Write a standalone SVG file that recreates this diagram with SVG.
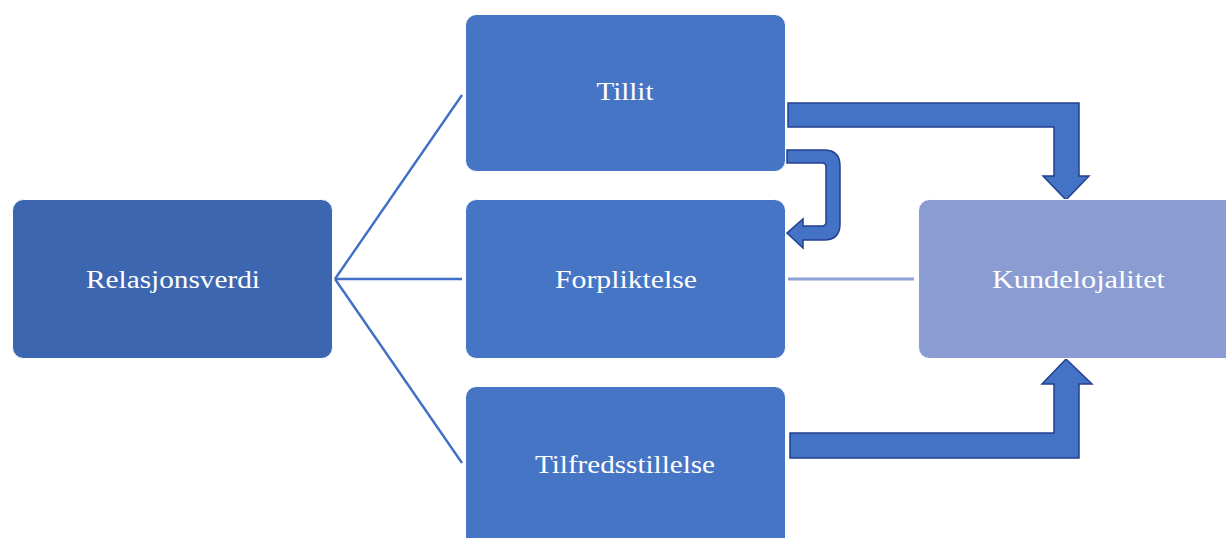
<svg xmlns="http://www.w3.org/2000/svg" width="1226" height="538" viewBox="0 0 1226 538">
  <style>
    .box { stroke: #ffffff; stroke-width: 1; }
    .dark { fill: #3D66B0; }
    .mid { fill: #4775C6; }
    .light { fill: #8A9CD1; }
    .label { font-family: "Liberation Serif", "DejaVu Serif", serif; font-size: 26px; fill: #ffffff; text-anchor: middle; }
    .link { stroke: #3F6FC6; stroke-width: 2.4; fill: none; }
    .thin-link { stroke: #8FA2D8; stroke-width: 3; fill: none; }
    .block-arrow { fill: #4472C4; stroke: #233F8F; stroke-width: 1.5; stroke-linejoin: miter; }
  </style>

  <rect width="1226" height="538" fill="#ffffff"/>

  <!-- connectors -->
  <g id="connectors">
    <line class="link" x1="335" y1="279" x2="462" y2="95"/>
    <line class="link" x1="335" y1="279" x2="462" y2="279"/>
    <line class="link" x1="335" y1="279" x2="462" y2="463"/>
    <line class="thin-link" x1="788" y1="279" x2="914" y2="279"/>
    <!-- Tillit to Kundelojalitet -->
    <path class="block-arrow" d="M788,103 H1079 V176 H1089 L1066,200 L1043,176 H1054 V127 H788 Z"/>
    <!-- Tillit to Forpliktelse (U-turn) -->
    <path class="block-arrow" d="M787,150 H824 Q840,150 840,166 V224 Q840,240 824,240 H803 V248 L787,233 L803,219 V226 H822 Q826,226 826,222 V167 Q826,163 822,163 H787 Z"/>
    <!-- Tilfredsstillelse to Kundelojalitet -->
    <path class="block-arrow" d="M790,458 H1079 V384 H1092 L1066,359 L1042,384 H1054 V433 H790 Z"/>
  </g>

  <g id="relasjonsverdi">
    <rect class="box dark" x="12.5" y="199.5" width="320" height="159" rx="11"/>
    <text class="label" x="173" y="288" textLength="174" lengthAdjust="spacingAndGlyphs">Relasjonsverdi</text>
  </g>

  <g id="tillit">
    <rect class="box mid" x="465.5" y="14.5" width="320" height="157" rx="11"/>
    <text class="label" x="625" y="100" textLength="57" lengthAdjust="spacingAndGlyphs">Tillit</text>
  </g>

  <g id="forpliktelse">
    <rect class="box mid" x="465.5" y="199.5" width="320" height="159" rx="11"/>
    <text class="label" x="626" y="288" textLength="142" lengthAdjust="spacingAndGlyphs">Forpliktelse</text>
  </g>

  <g id="tilfredsstillelse">
    <rect class="box mid" x="465.5" y="386.5" width="320" height="165" rx="11"/>
    <text class="label" x="625" y="473" textLength="180" lengthAdjust="spacingAndGlyphs">Tilfredsstillelse</text>
  </g>

  <g id="kundelojalitet">
    <rect class="box light" x="918.5" y="199.5" width="320" height="159" rx="11"/>
    <text class="label" x="1078.5" y="288" textLength="173" lengthAdjust="spacingAndGlyphs">Kundelojalitet</text>
  </g>
</svg>
